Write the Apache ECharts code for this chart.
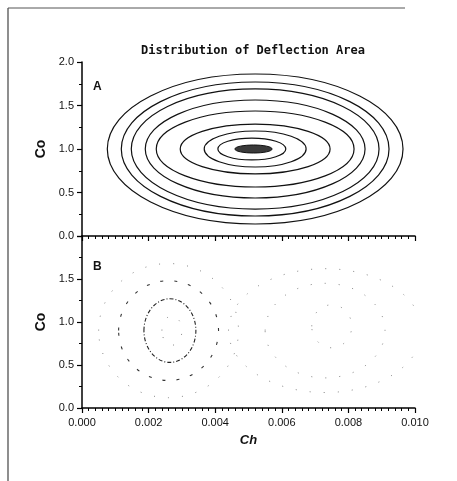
<!DOCTYPE html>
<html><head><meta charset="utf-8">
<script src="https://cdn.jsdelivr.net/npm/echarts@6/dist/echarts.min.js"></script>
<style>html,body{margin:0;padding:0;background:#fff}#c{width:457px;height:481px}</style>
</head><body><div id="c"></div>
<script>
// ---- tick labels ----
const xTickLabels = ['0.000', '0.002', '0.004', '0.006', '0.008', '0.010'];
const yTickLabelsA = ['0.0', '0.5', '1.0', '1.5', '2.0'];
const yTickLabelsB = ['0.0', '0.5', '1.0', '1.5', ''];

// ---- Panel A contours: [cx, cy, rx, ry] in data units ----
const ringsA = [
  [0.0052, 1.0, 0.00444, 0.862],
  [0.0052, 1.0, 0.00402, 0.770],
  [0.0052, 1.0, 0.00372, 0.690],
  [0.0052, 1.0, 0.00330, 0.563],
  [0.0052, 1.0, 0.00297, 0.437],
  [0.0052, 1.0, 0.00225, 0.287],
  [0.0052, 1.0, 0.00153, 0.207],
  [0.0051, 1.0, 0.00102, 0.126]
];
const coreA = [[0.00515, 1.0, 0.00056, 0.046]];

// ---- Panel B contours ----
const ringsBInner = [[0.00264, 0.90, 0.00078, 0.37]];
const ringsBMid = [[0.0026, 0.90, 0.0015, 0.58]];
const ringsBSparse = [
  [0.0026, 0.90, 0.0021, 0.78],
  [0.0027, 0.90, 0.0003, 0.17],
  [0.0075, 0.95, 0.0006, 0.25],
  [0.0073, 0.90, 0.0018, 0.55],
  [0.0073, 0.90, 0.0029, 0.72]
];

const chart = echarts.init(document.getElementById('c'), null, {renderer: 'canvas'});

function ellipseSeries(name, xi, yi, data, style) {
  return {
    name: name, type: 'custom', xAxisIndex: xi, yAxisIndex: yi, clip: true,
    data: data, silent: true,
    renderItem: function (params, api) {
      const c = api.coord([api.value(0), api.value(1)]);
      const s = api.size([api.value(2), api.value(3)]);
      return {type: 'ellipse', shape: {cx: c[0], cy: c[1], rx: s[0], ry: s[1]}, style: Object.assign({}, style)};
    }
  };
}

const tickFont = {fontFamily: 'Liberation Sans', fontSize: 11, color: '#111'};
const axLine = {lineStyle: {color: '#000', width: 1.5}};
const axTick = {length: 5, lineStyle: {color: '#000', width: 1.2}};
const minTick = {length: 3, lineStyle: {color: '#000', width: 1}};

chart.setOption({
  backgroundColor: '#fff',
  animation: false,
  title: {
    text: 'Distribution of Deflection Area', left: 141, top: 45, padding: 0,
    textStyle: {fontFamily: 'DejaVu Sans Mono', fontSize: 12, fontWeight: 'bold', color: '#111'}
  },
  grid: [
    {left: 82, top: 62, width: 333, height: 174},
    {left: 82, top: 236, width: 333, height: 172}
  ],
  xAxis: [
    {gridIndex: 0, type: 'value', min: 0, max: 0.01, interval: 0.002,
     axisLine: axLine, axisTick: axTick, minorTick: Object.assign({show: true, splitNumber: 10}, minTick),
     axisLabel: {show: false}, splitLine: {show: false}},
    {gridIndex: 1, type: 'value', min: 0, max: 0.01, interval: 0.002,
     axisLine: axLine, axisTick: axTick, minorTick: Object.assign({show: true, splitNumber: 10}, minTick),
     axisLabel: Object.assign({margin: 9, formatter: function (v, i) { return xTickLabels[i]; }}, tickFont),
     splitLine: {show: false},
     name: 'Ch', nameLocation: 'middle', nameGap: 26,
     nameTextStyle: {fontFamily: 'Liberation Sans', fontSize: 13, fontStyle: 'italic', fontWeight: 'bold', color: '#111'}}
  ],
  yAxis: [
    {gridIndex: 0, type: 'value', min: 0, max: 2, interval: 0.5,
     axisLine: axLine, axisTick: axTick, minorTick: Object.assign({show: true, splitNumber: 2}, minTick),
     axisLabel: Object.assign({margin: 8, formatter: function (v, i) { return yTickLabelsA[i]; }}, tickFont),
     splitLine: {show: false},
     name: 'Co', nameLocation: 'middle', nameGap: 31, nameRotate: 90,
     nameTextStyle: {fontFamily: 'Liberation Sans', fontSize: 14, fontWeight: 'bold', color: '#111'}},
    {gridIndex: 1, type: 'value', min: 0, max: 2, interval: 0.5,
     axisLine: axLine, axisTick: axTick, minorTick: Object.assign({show: true, splitNumber: 2}, minTick),
     axisLabel: Object.assign({margin: 8, formatter: function (v, i) { return yTickLabelsB[i]; }}, tickFont),
     splitLine: {show: false},
     name: 'Co', nameLocation: 'middle', nameGap: 31, nameRotate: 90,
     nameTextStyle: {fontFamily: 'Liberation Sans', fontSize: 14, fontWeight: 'bold', color: '#111'}}
  ],
  graphic: [
    {type: 'line', shape: {x1: 8, y1: 8, x2: 8, y2: 481}, style: {stroke: '#444', lineWidth: 1.2}},
    {type: 'line', shape: {x1: 8, y1: 8, x2: 405, y2: 8}, style: {stroke: '#555', lineWidth: 1}},
    {type: 'text', left: 93, top: 81, style: {text: 'A', fontFamily: 'Liberation Sans', fontSize: 12, fontWeight: 'bold', fill: '#111'}},
    {type: 'text', left: 93, top: 261, style: {text: 'B', fontFamily: 'Liberation Sans', fontSize: 12, fontWeight: 'bold', fill: '#111'}}
  ],
  series: [
    ellipseSeries('A contours', 0, 0, ringsA, {fill: 'none', stroke: '#111', lineWidth: 1.2}),
    ellipseSeries('A core', 0, 0, coreA, {fill: '#3a3a3a', stroke: '#111', lineWidth: 1}),
    ellipseSeries('B inner', 1, 1, ringsBInner, {fill: 'none', stroke: '#222', lineWidth: 1.1, lineDash: [4, 2, 1, 2]}),
    ellipseSeries('B mid', 1, 1, ringsBMid, {fill: 'none', stroke: '#333', lineWidth: 1.1, lineDash: [3, 11]}),
    ellipseSeries('B sparse', 1, 1, ringsBSparse, {fill: 'none', stroke: '#888', lineWidth: 1, lineDash: [1, 13]})
  ]
});
</script>
</body></html>
